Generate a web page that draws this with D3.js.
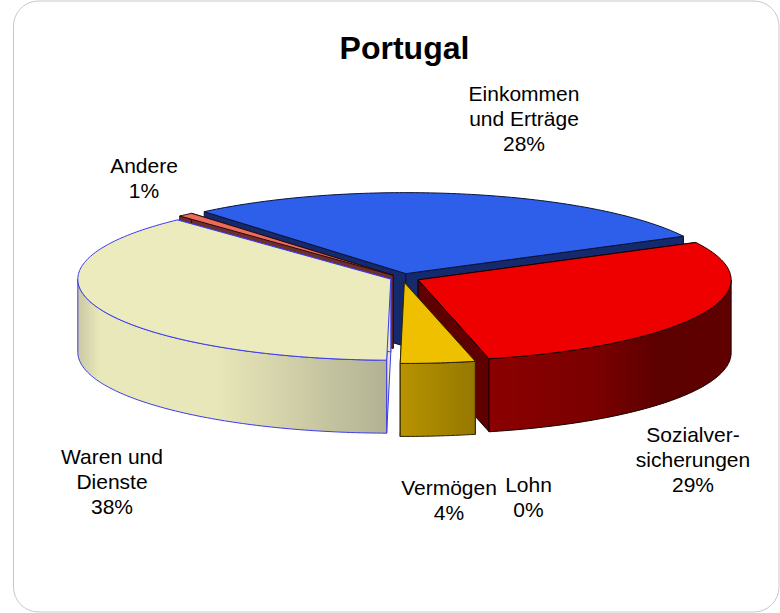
<!DOCTYPE html>
<html><head><meta charset="utf-8">
<script src="https://cdn.jsdelivr.net/npm/d3@7"></script>
<style>html,body{margin:0;padding:0;background:#fff}svg{display:block}text{font-family:"Liberation Sans",Arial,sans-serif;fill:#000}</style>
</head><body><svg id="c" width="780" height="613"></svg>
<script>
// data, clockwise from the upper right edge of the red slice
const categories = ["Sozialver-|sicherungen","Lohn","Vermögen","Waren und|Dienste","Andere","Einkommen|und Erträge"];
const shares = [29, 0, 3.85, 37.85, 0.8, 28.5];
const percentLabels = ["29%","0%","4%","38%","1%","28%"];
const title = "Portugal";

// layout & style (not data)
const W=780,H=613, cx=402.5, cy=278, rx=313, ry=81, depth=73, startDeg=62.5;
const explodes=[0.055,0.055,0.055,0.04,0.045,0.055];
const topFill = ["#ee0000","#ffffff","#efc000","#ecebbd","#ea6a5c","#2e5fea"];
const wallFill= ["#5f0000","#5f0000","#7a6100","#e8e7c8","#6b2f2f","#152a6c"];
const strokes = ["#1a0000","#1a0000","#2b2400","#3a3aee","#2a0a0a","#0a1236"];
const rimStops = [
  [["0","#8c0000"],["0.45","#7a0000"],["0.7","#5c0000"],["1","#600000"]],
  [["0","#5f0000"],["1","#5f0000"]],
  [["0","#b89300"],["1","#957800"]],
  [["0","#c9c8a4"],["0.07","#e9e8ba"],["0.45","#e8e7b9"],["1","#b2b193"]],
  [["0","#6b2f2f"],["1","#6b2f2f"]],
  [["0","#152a6c"],["1","#152a6c"]]
];
const labelPos = [[693,442],[528.5,492],[449,495],[112,464],[144,173],[524,100.5]];

const svg=d3.select("#c");
svg.append("rect").attr("x",13.5).attr("y",1).attr("width",765.5).attr("height",611).attr("rx",25).attr("fill","#fff").attr("stroke","#c8c8c8");
svg.append("text").attr("x",404.5).attr("y",59).attr("text-anchor","middle").attr("font-weight","bold").attr("font-size",32).text(title);

const pie=d3.pie().sort(null).startAngle(startDeg*Math.PI/180).endAngle((startDeg+360)*Math.PI/180);
const arcs=pie(shares);
const xs=d3.scaleLinear().domain([-1,1]).range([-rx,rx]);
const ys=d3.scaleLinear().domain([-1,1]).range([ry,-ry]);
const line=d3.line().x(d=>d[0]).y(d=>d[1]);
const defs=svg.append("defs");

function sample(a0,a1){const n=Math.max(2,Math.ceil(Math.abs(a1-a0)*60));return d3.range(n+1).map(i=>a0+(a1-a0)*i/n);}

const slices=arcs.map((a,i)=>{
  const mid=(a.startAngle+a.endAngle)/2;
  const ax=cx+explodes[i]*xs(Math.sin(mid)), ay=cy+explodes[i]*ys(Math.cos(mid));
  const P=t=>[ax+xs(Math.sin(t)),ay+ys(Math.cos(t))];
  return {a,i,ax,ay,P};
});
// painter's order: back to front
const order=[5,4,0,3,2];
order.forEach(k=>{
  const {a,i,ax,ay,P}=slices[k];
  const g=svg.append("g");
  const down=p=>[p[0],p[1]+depth];
  const apex=[ax,ay];
  [a.startAngle,a.endAngle].forEach(t=>{
    const p=P(t);
    g.append("path").attr("d",line([apex,p,down(p),down(apex)])+"Z").attr("fill",wallFill[i]).attr("stroke",strokes[i]).attr("stroke-width",1);
  });
  // outer wall: the part of the rim that faces the viewer
  const PI=Math.PI;
  const ranges=[[PI/2,3*PI/2],[5*PI/2,7*PI/2]];
  ranges.forEach(([lo,hi])=>{
    const s=Math.max(a.startAngle,lo), e=Math.min(a.endAngle,hi);
    if(e<=s) return;
    const pts=sample(s,e).map(P);
    const id="rim"+i;
    const xe=d3.extent(pts,d=>d[0]);
    const gr=defs.append("linearGradient").attr("id",id).attr("gradientUnits","userSpaceOnUse").attr("x1",xe[0]).attr("x2",xe[1]).attr("y1",0).attr("y2",0);
    rimStops[i].forEach(st=>gr.append("stop").attr("offset",st[0]).attr("stop-color",st[1]));
    g.append("path").attr("d",line(pts.concat(pts.slice().reverse().map(down)))+"Z").attr("fill",`url(#${id})`).attr("stroke",strokes[i]).attr("stroke-width",1);
  });
  const top=[apex].concat(sample(a.startAngle,a.endAngle).map(P));
  g.append("path").attr("d",line(top)+"Z").attr("fill",topFill[i]).attr("stroke",strokes[i]).attr("stroke-width",1);
});

categories.forEach((c,i)=>{
  const lines=c.split("|").concat(percentLabels[i]);
  const t=svg.append("text").attr("text-anchor","middle").attr("font-size",21);
  lines.forEach((l,j)=>t.append("tspan").attr("x",labelPos[i][0]).attr("y",labelPos[i][1]+j*25).text(l));
});
</script></body></html>
